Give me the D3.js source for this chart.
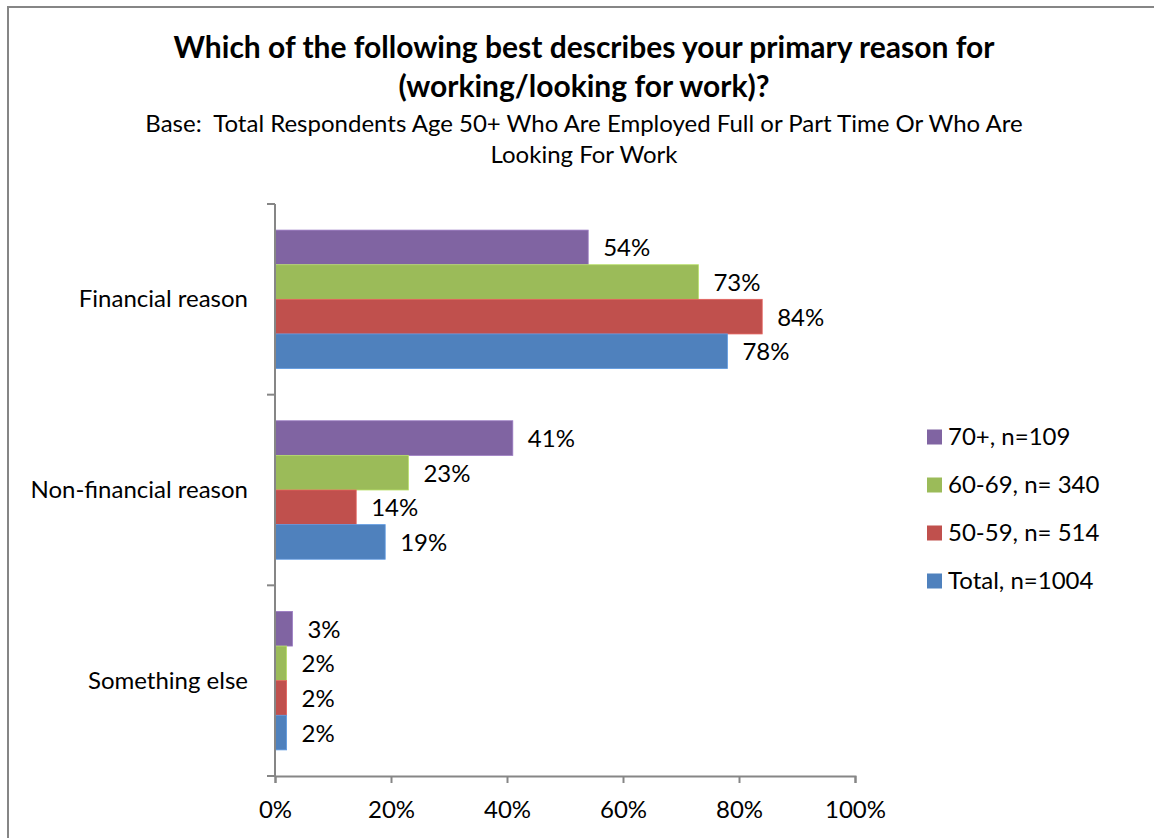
<!DOCTYPE html>
<html>
<head>
<meta charset="utf-8">
<script src="https://cdn.jsdelivr.net/npm/d3@7"></script>
<style>
  html, body { margin: 0; padding: 0; background: #fff; }
  svg { display: block; }
  text { font-family: Lato, "Open Sans", sans-serif; fill: #000; }
</style>
</head>
<body>
<svg id="chart" width="1154" height="838"></svg>
<script>
// Reasons for working, by age group (percent of respondents)
const categories = ["Financial reason", "Non-financial reason", "Something else"];
const seriesNames = ["70+, n=109", "60-69, n= 340", "50-59, n= 514", "Total, n=1004"];
const seriesColors = ["#8064A2", "#9BBB59", "#C0504D", "#4F81BD"];
const values70 = [54, 41, 3];
const values60 = [73, 23, 2];
const values50 = [84, 14, 2];
const valuesTotal = [78, 19, 2];
const xTicks = [0, 20, 40, 60, 80, 100];

const seriesValues = [values70, values60, values50, valuesTotal];

const FONT = 24;
const svg = d3.select("#chart");

// outer frame
svg.append("rect")
  .attr("x", 8).attr("y", 7)
  .attr("width", 1160).attr("height", 840)
  .attr("fill", "none").attr("stroke", "#868686").attr("stroke-width", 2);

// titles
const title = svg.append("g");
title.append("text").attr("x", 584).attr("y", 58).attr("text-anchor", "middle")
  .attr("font-size", 30).attr("font-weight", "bold")
  .text("Which of the following best describes your primary reason for");
title.append("text").attr("x", 584).attr("y", 97).attr("text-anchor", "middle")
  .attr("font-size", 30).attr("font-weight", "bold")
  .text("(working/looking for work)?");
title.append("text").attr("x", 584).attr("y", 132).attr("text-anchor", "middle")
  .attr("font-size", FONT).attr("xml:space", "preserve")
  .text("Base:  Total Respondents Age 50+ Who Are Employed Full or Part Time Or Who Are");
title.append("text").attr("x", 584).attr("y", 163).attr("text-anchor", "middle")
  .attr("font-size", FONT)
  .text("Looking For Work");

const x = d3.scaleLinear().domain([0, 100]).range([275, 855]);
const y = d3.scaleBand().domain(categories).range([204, 776]).paddingInner(0).paddingOuter(0);
const inner = d3.scaleBand().domain(d3.range(seriesNames.length))
  .range([0, y.bandwidth()]).paddingOuter(0.754).paddingInner(0);

// bars
seriesValues.forEach((vals, si) => {
  const g = svg.append("g");
  g.selectAll("rect").data(vals).join("rect")
    .attr("x", x(0))
    .attr("y", (d, i) => y(categories[i]) + inner(si))
    .attr("width", d => x(d) - x(0))
    .attr("height", inner.bandwidth())
    .attr("fill", seriesColors[si])
    .attr("stroke", d3.color(seriesColors[si]).brighter(0.5))
    .attr("stroke-width", 0.8);
  g.selectAll("text").data(vals).join("text")
    .attr("x", d => x(d) + 15)
    .attr("y", (d, i) => y(categories[i]) + inner(si) + inner.bandwidth() / 2 + 9)
    .attr("font-size", FONT)
    .text(d => d + "%");
});

// y axis
const yAxis = svg.append("g");
yAxis.append("line").attr("x1", x(0)).attr("x2", x(0)).attr("y1", 204).attr("y2", 777)
  .attr("stroke", "#868686").attr("stroke-width", 2);
const yTickPos = categories.map(c => y(c)).concat([y.range()[1]]);
yAxis.selectAll("line.tick").data(yTickPos).join("line").attr("class", "tick")
  .attr("x1", x(0) - 8).attr("x2", x(0)).attr("y1", d => d).attr("y2", d => d)
  .attr("stroke", "#868686").attr("stroke-width", 2);
yAxis.selectAll("text").data(categories).join("text")
  .attr("x", 248)
  .attr("y", d => y(d) + y.bandwidth() / 2 + 8)
  .attr("text-anchor", "end")
  .attr("font-size", FONT)
  .text(d => d);

// x axis
const xAxis = d3.axisBottom(x).tickValues(xTicks).tickSize(7).tickPadding(0)
  .tickFormat(d => d + "%");
const xg = svg.append("g").attr("transform", "translate(0,776)").call(xAxis);
xg.select(".domain").attr("stroke", "#868686").attr("stroke-width", 2);
xg.selectAll(".tick line").attr("stroke", "#868686").attr("stroke-width", 2);
xg.selectAll(".tick text")
  .attr("y", 42).attr("dy", null)
  .attr("font-size", FONT).attr("font-family", "Lato, 'Open Sans', sans-serif").attr("fill", "#000");

// legend
const legend = svg.append("g");
seriesNames.forEach((name, i) => {
  const cy = 437 + i * 48;
  legend.append("rect").attr("x", 927).attr("y", cy - 7.5).attr("width", 15).attr("height", 15)
    .attr("fill", seriesColors[i]);
  legend.append("text").attr("x", 948).attr("y", cy + 8)
    .attr("font-size", FONT).text(name);
});
</script>
</body>
</html>
